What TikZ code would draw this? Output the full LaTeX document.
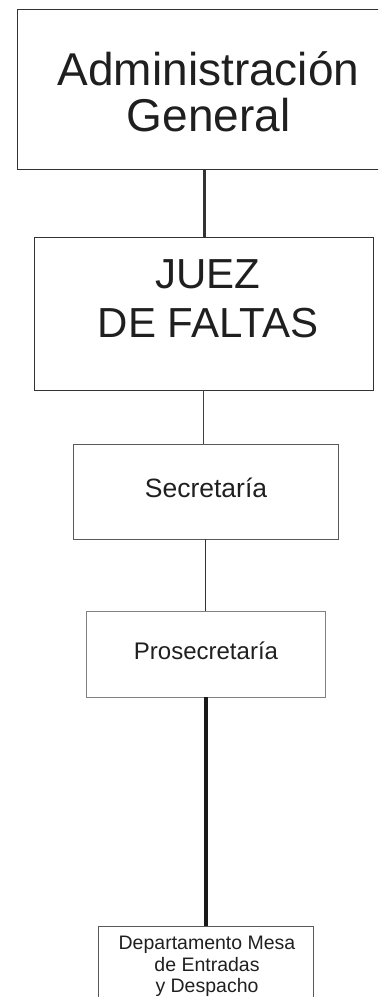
\documentclass[tikz,border=0pt]{standalone}
\usepackage{fontspec}
\setmainfont{Liberation Sans}
\begin{document}
\begin{tikzpicture}[x=1pt,y=-1pt,
  orgbox/.style={draw, rectangle, inner sep=0pt, outer sep=0pt, line width=1pt},
  lbl/.style={anchor=base, align=center, inner sep=0pt, text=black!88}]
\useasboundingbox (0,0) rectangle (378,997);
\clip (0,0) rectangle (378,997);
% boxes
\node[orgbox, draw=black!80, minimum width=383pt, minimum height=160pt] (adm) at (208.5,89) {};
\node[orgbox, draw=black!80, minimum width=339pt, minimum height=153pt] (juez) at (203.5,313.5) {};
\node[orgbox, draw=black!65, minimum width=265pt, minimum height=95pt] (sec) at (205.5,491.5) {};
\node[orgbox, draw=black!50, minimum width=239pt, minimum height=86pt] (pro) at (205.5,654) {};
\node[orgbox, draw=black!65, minimum width=215pt, minimum height=90pt] (dep) at (205.5,971) {};
% texts (anchor=base is the baseline of the last line)
\node[lbl, font=\fontsize{46}{46.7}\selectfont] (tadm) at (208.5,131.7) {Administración\\General};
\node[lbl, font=\fontsize{42}{49}\selectfont] (tjuez) at (208,337.3) {JUEZ\\DE FALTAS};
\node[lbl, font=\fontsize{26.5}{30}\selectfont] (tsec) at (206,497) {Secretaría};
\node[lbl, font=\fontsize{24}{28}\selectfont] (tpro) at (206,659) {Prosecretaría};
\node[lbl, font=\fontsize{19.5}{21.7}\selectfont] (tdep) at (207,992.7) {Departamento Mesa\\de Entradas\\y Despacho};
% connectors
\draw[line width=3pt, draw=black!80] ([xshift=1pt]juez.north) -- ([xshift=1pt]juez.north |- adm.south);
\draw[line width=1pt, draw=black!75] (juez.south) -- (juez.south |- sec.north);
\draw[line width=1pt, draw=black!80] (sec.south) -- (pro.north);
\draw[line width=4pt, draw=black!90] (pro.south) -- (dep.north);
\end{tikzpicture}
\end{document}
